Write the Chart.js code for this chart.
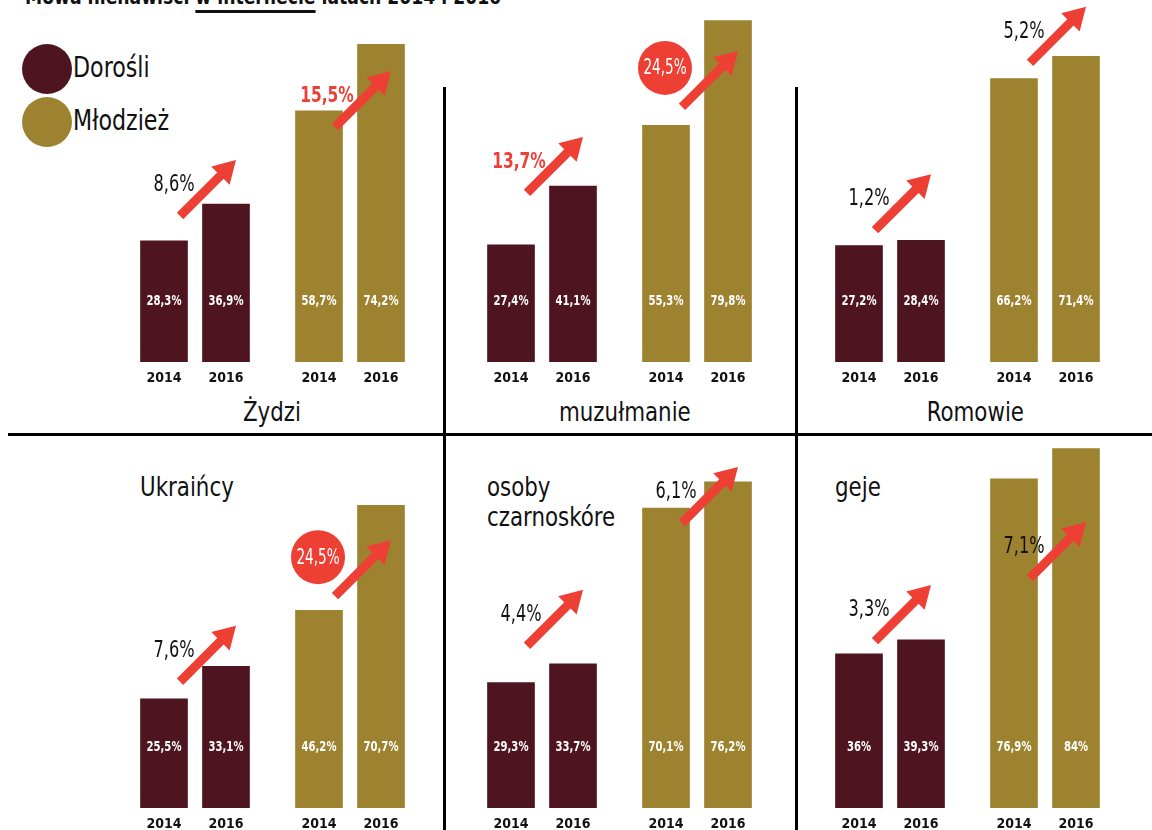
<!DOCTYPE html>
<html>
<head>
<meta charset="utf-8">
<script src="https://cdn.jsdelivr.net/npm/chart.js@4.4.0/dist/chart.umd.min.js"></script>
<style>
  body { margin: 0; width: 1152px; height: 830px; overflow: hidden; background: #fff; position: relative;
         font-family: "DejaVu Sans Condensed", "Liberation Sans Narrow", sans-serif; color: #111; }
  .abs { position: absolute; white-space: nowrap; }
  .narrow { display: inline-block; transform: scaleX(0.88); transform-origin: 0 50%; }
  canvas.panel { position: absolute; }
  .dot { position: absolute; width: 50px; height: 50px; border-radius: 50%; }
  .line { position: absolute; background: #000; }
  .title { font-size: 27px; line-height: 30px; }
</style>
</head>
<body>
<div class="abs" style="left:25px;top:-14px;font-size:22px;font-weight:bold;line-height:22px;"><span class="narrow" style="transform:scaleX(0.87)">Mowa nienawiści <span style="text-decoration:underline;text-decoration-thickness:3px;text-underline-offset:6px">w internecie</span> latach 2014 i 2016</span></div>

<div class="dot" style="left:22px;top:44px;background:#4e1420"></div>
<div class="abs" style="left:73px;top:52px;font-size:28px;line-height:32px;"><span class="narrow">Dorośli</span></div>
<div class="dot" style="left:22px;top:97px;background:#9d8230"></div>
<div class="abs" style="left:73px;top:105px;font-size:28px;line-height:32px;"><span class="narrow">Młodzież</span></div>

<div class="line" style="left:8px;top:433px;width:1144px;height:3px"></div>
<div class="line" style="left:443px;top:87px;width:3px;height:743px"></div>
<div class="line" style="left:795px;top:87px;width:3px;height:743px"></div>

<div id="titles"></div>

<script>
// values (%)
const years = ['2014', '2016', '2014', '2016'];
const panelNames = ['Żydzi', 'muzułmanie', 'Romowie', 'Ukraińcy', 'osoby\nczarnoskóre', 'geje'];
const zydzi = [28.3, 36.9, 58.7, 74.2];
const muzulmanie = [27.4, 41.1, 55.3, 79.8];
const romowie = [27.2, 28.4, 66.2, 71.4];
const ukraincy = [25.5, 33.1, 46.2, 70.7];
const czarnoskorzy = [29.3, 33.7, 70.1, 76.2];
const geje = [36, 39.3, 76.9, 84];
const series = [zydzi, muzulmanie, romowie, ukraincy, czarnoskorzy, geje];

// growth labels (adults, youth) and how they are shown
const changes = [['8,6%', '15,5%'], ['13,7%', '24,5%'], ['1,2%', '5,2%'],
                 ['7,6%', '24,5%'], ['4,4%', '6,1%'], ['3,3%', '7,1%']];
const changeStyle = [['plain', 'red'], ['red', 'circle'], ['plain', 'plain'],
                     ['plain', 'circle'], ['plain', 'plain'], ['plain', 'plain']];
// level (in %) where each arrow starts
const arrowBase = [[34.1, 54.9], [39.5, 59.6], [30.8, 69.9],
                   [29.5, 49.5], [37.9, 66.6], [39.0, 53.7]];

const DARK = '#4e1420', GOLD = '#9d8230', RED = '#ee3f34';
const FONT = '"DejaVu Sans Condensed", "Liberation Sans Narrow", sans-serif';
const PX = 4.28;       // pixels per percent
const AREA_H = 364, AXIS_H = 30, UNIT = 62;
const xPos = [0, 1, 2.5, 3.5];
const firstCenter = [163.5, 510.5, 858.5, 163.5, 510.5, 858.5];
const baseline = [362, 362, 362, 808, 808, 808];

// panel titles
const titles = document.getElementById('titles');
[[272, 'center'], [625, 'center'], [975, 'center'], [140, 'left'], [487, 'left'], [835, 'left']].forEach((p, i) => {
  const d = document.createElement('div');
  d.className = 'abs title';
  const s = document.createElement('span');
  s.className = 'narrow';
  s.innerHTML = panelNames[i].replace('\n', '<br>');
  if (i < 3) {
    d.style.left = (p[0] - 150) + 'px';
    d.style.width = '300px';
    d.style.textAlign = 'center';
    d.style.top = '397px';
    s.style.transformOrigin = '50% 50%';
  } else {
    d.style.left = p[0] + 'px';
    d.style.top = '472px';
  }
  d.appendChild(s);
  titles.appendChild(d);
});

function drawArrow(ctx, x0, y0, x1, y1) {
  const dx = x1 - x0, dy = y1 - y0, len = Math.hypot(dx, dy);
  const ux = dx / len, uy = dy / len, px = -uy, py = ux;
  const hl = 22, hw = 13, sw = 4.5;
  const bx = x1 - ux * hl, by = y1 - uy * hl;
  ctx.beginPath();
  ctx.moveTo(x0 + px * sw, y0 + py * sw);
  ctx.lineTo(bx + px * sw, by + py * sw);
  ctx.lineTo(bx + px * hw, by + py * hw);
  ctx.lineTo(x1, y1);
  ctx.lineTo(bx - px * hw, by - py * hw);
  ctx.lineTo(bx - px * sw, by - py * sw);
  ctx.lineTo(x0 - px * sw, y0 - py * sw);
  ctx.closePath();
  ctx.fillStyle = RED;
  ctx.fill();
}

// condensed text: squeeze horizontally around the centre
function squeezeText(ctx, txt, x, y, sx) {
  ctx.save();
  ctx.translate(x, y);
  ctx.scale(sx, 1);
  ctx.fillText(txt, 0, 0);
  ctx.restore();
}

const annot = {
  id: 'annot',
  afterDatasetsDraw(chart, args, opts) {
    const i = opts.panel;
    const ctx = chart.ctx;
    const meta = chart.getDatasetMeta(0);
    const ys = chart.scales.y;
    const y0 = ys.getPixelForValue(0);
    ctx.save();
    ctx.textAlign = 'center';
    ctx.textBaseline = 'middle';
    // values inside the bars
    ctx.fillStyle = '#fff';
    ctx.font = 'bold 14px ' + FONT;
    meta.data.forEach((bar, j) => {
      squeezeText(ctx, String(series[i][j]).replace('.', ',') + '%', bar.x, y0 - 61, 0.8);
    });
    // arrows + growth labels
    for (let k = 0; k < 2; k++) {
      const bar = meta.data[2 * k];
      const tx = bar.x + 16, ty = ys.getPixelForValue(arrowBase[i][k]);
      drawArrow(ctx, tx, ty, tx + 56, ty - 56);
      const st = changeStyle[i][k];
      if (st === 'circle') {
        ctx.fillStyle = RED;
        ctx.beginPath();
        ctx.arc(tx - 17, ty - 39, 27, 0, Math.PI * 2);
        ctx.fill();
        ctx.fillStyle = '#fff';
        ctx.font = '21px ' + FONT;
        squeezeText(ctx, changes[i][k], tx - 17, ty - 38, 0.72);
      } else if (st === 'red') {
        ctx.fillStyle = RED;
        ctx.font = 'bold 22px ' + FONT;
        squeezeText(ctx, changes[i][k], tx - 8, ty - 31, 0.78);
      } else {
        ctx.fillStyle = '#111';
        ctx.font = '23px ' + FONT;
        squeezeText(ctx, changes[i][k], tx - 6, ty - 31, 0.78);
      }
    }
    ctx.restore();
  }
};

series.forEach((vals, i) => {
  const c = document.createElement('canvas');
  c.className = 'panel';
  c.width = 6 * UNIT;
  c.height = AREA_H + AXIS_H;
  c.style.left = (firstCenter[i] - 1.5 * UNIT) + 'px';
  c.style.top = (baseline[i] - AREA_H) + 'px';
  document.body.appendChild(c);

  new Chart(c, {
    type: 'bar',
    data: {
      datasets: [{
        data: xPos.map((x, j) => ({ x: x, y: vals[j] })),
        backgroundColor: [DARK, DARK, GOLD, GOLD],
        barThickness: 47
      }]
    },
    options: {
      responsive: false,
      animation: false,
      events: [],
      layout: { padding: 0 },
      plugins: {
        legend: { display: false },
        tooltip: { enabled: false },
        annot: { panel: i }
      },
      scales: {
        x: {
          type: 'linear',
          min: -1.5,
          max: 4.5,
          offset: false,
          grid: { display: false },
          border: { display: false },
          afterBuildTicks: a => { a.ticks = xPos.map(v => ({ value: v })); },
          afterFit: a => { a.height = AXIS_H; },
          ticks: {
            autoSkip: false,
            maxRotation: 0,
            padding: 0,
            color: '#111',
            font: { family: FONT, size: 14, weight: 'bold' },
            callback: (v, idx) => years[idx]
          }
        },
        y: { display: false, min: 0, max: AREA_H / PX }
      }
    },
    plugins: [annot]
  });
});
</script>
</body>
</html>
